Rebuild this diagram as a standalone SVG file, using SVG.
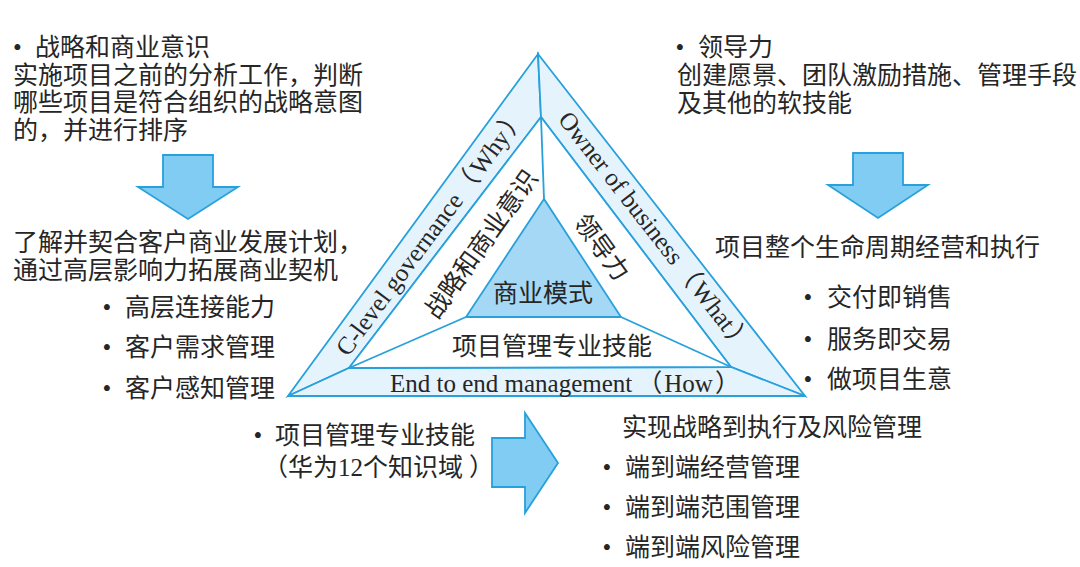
<svg xmlns="http://www.w3.org/2000/svg" width="1080" height="567" viewBox="0 0 1080 567">
<style>
.t{font-family:"Liberation Serif","Noto Sans CJK SC",serif;font-size:25px;fill:#262626}
.band{fill:#e4f3fc;stroke:#27a0dc;stroke-width:1.8;stroke-linejoin:miter}
.mid{fill:#ffffff;stroke:#27a0dc;stroke-width:1.8}
.core{fill:#a5d8f4;stroke:#27a0dc;stroke-width:1.8}
.ln{stroke:#27a0dc;stroke-width:1.8;fill:none}
.blk{fill:#80ccf2;stroke:#27a0dc;stroke-width:1.8;stroke-linejoin:miter}
</style>
<rect width="1080" height="567" fill="#ffffff"/>
<g id="triangle">
  <polygon class="band" points="288,396 538,54 541,117 349,368"/>
  <polygon class="band" points="538,54 805,396 731,367 541,117"/>
  <polygon class="band" points="288,396 805,396 731,367 349,368"/>
  <polygon class="mid" points="541,117 349,368 731,367"/>
  <line class="ln" x1="541" y1="117" x2="544" y2="199"/>
  <line class="ln" x1="349" y1="368" x2="466" y2="317"/>
  <line class="ln" x1="731" y1="367" x2="621" y2="317"/>
  <polygon class="core" points="544,199 466,317 621,317"/>
  <text class="t" x="543" y="302" text-anchor="middle">商业模式</text>
  <text class="t" x="552" y="355" text-anchor="middle">项目管理专业技能</text>
  <text class="t" x="390" y="392">End to end management<tspan dx="5">（</tspan><tspan dx="2">How</tspan><tspan dx="2">）</tspan></text>
  <text class="t" transform="translate(431,232) rotate(-53.5)" x="0" y="8" text-anchor="middle">C-level governance<tspan dx="3">（</tspan><tspan dx="2">Why</tspan><tspan dx="2">）</tspan></text>
  <text class="t" transform="translate(655,232) rotate(52)" x="0" y="8" text-anchor="middle">Owner of business<tspan dx="3">（</tspan><tspan dx="2">What</tspan><tspan dx="2">）</tspan></text>
  <text class="t" transform="translate(481,244) rotate(-54.5)" x="0" y="9" text-anchor="middle">战略和商业意识</text>
  <text class="t" transform="translate(602,247) rotate(54)" x="0" y="9" text-anchor="middle">领导力</text>
</g>
<g id="strategy-text">
  <text class="t" x="13" y="56">•<tspan x="35">战略和商业意识</tspan></text>
  <text class="t" x="13" y="84">实施项目之前的分析工作，判断</text>
  <text class="t" x="13" y="111">哪些项目是符合组织的战略意图</text>
  <text class="t" x="13" y="139">的，并进行排序</text>
</g>
<g id="customer-text">
  <text class="t" x="13" y="251">了解并契合客户商业发展计划，</text>
  <text class="t" x="13" y="279">通过高层影响力拓展商业契机</text>
  <text class="t" x="102.6" y="316">•<tspan x="125">高层连接能力</tspan></text>
  <text class="t" x="102.6" y="356">•<tspan x="125">客户需求管理</tspan></text>
  <text class="t" x="102.6" y="397">•<tspan x="125">客户感知管理</tspan></text>
</g>
<g id="leadership-text">
  <text class="t" x="675.6" y="56">•<tspan x="698">领导力</tspan></text>
  <text class="t" x="677" y="84">创建愿景、团队激励措施、管理手段</text>
  <text class="t" x="677" y="112">及其他的软技能</text>
</g>
<g id="lifecycle-text">
  <text class="t" x="715" y="256">项目整个生命周期经营和执行</text>
  <text class="t" x="803.6" y="306">•<tspan x="827">交付即销售</tspan></text>
  <text class="t" x="803.6" y="348">•<tspan x="827">服务即交易</tspan></text>
  <text class="t" x="803.6" y="388">•<tspan x="827">做项目生意</tspan></text>
</g>
<g id="pm-skill-text">
  <text class="t" x="253.6" y="444">•<tspan x="275">项目管理专业技能</tspan></text>
  <text class="t" x="263" y="476">（华为12个知识域<tspan dx="6">）</tspan></text>
</g>
<g id="execution-text">
  <text class="t" x="622" y="436">实现战略到执行及风险管理</text>
  <text class="t" x="602.6" y="476">•<tspan x="625">端到端经营管理</tspan></text>
  <text class="t" x="602.6" y="516">•<tspan x="625">端到端范围管理</tspan></text>
  <text class="t" x="602.6" y="556">•<tspan x="625">端到端风险管理</tspan></text>
</g>
<g id="connectors">
  <polygon class="blk" points="163,155 213,155 213,187 238,187 188,219 138,187 163,187"/>
  <polygon class="blk" points="853,153 903,153 903,185 928,185 878,218 828,185 853,185"/>
  <polygon class="blk" points="492,438 525,438 525,413 558,463 525,513 525,487 492,487"/>
</g>
</svg>
